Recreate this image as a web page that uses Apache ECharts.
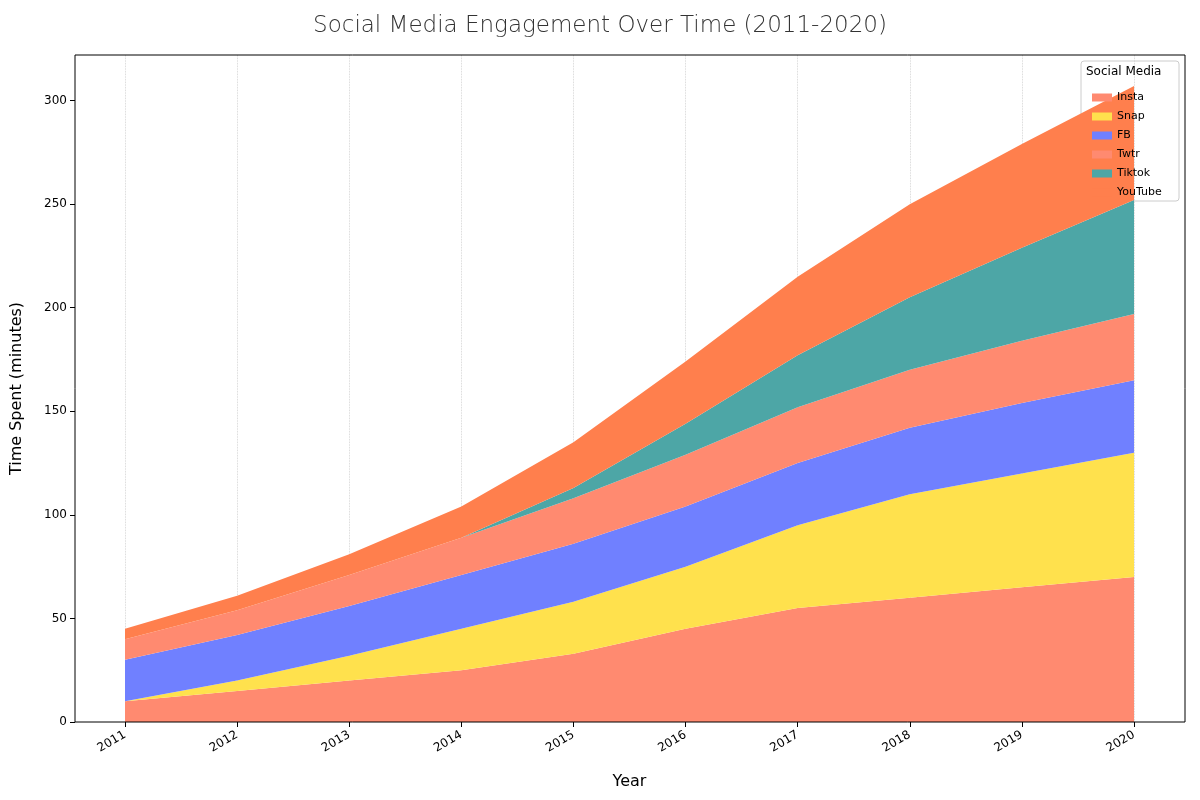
<!DOCTYPE html>
<html><head><meta charset="utf-8">
<script src="https://cdn.jsdelivr.net/npm/echarts@6/dist/echarts.min.js"></script>
<style>html,body{margin:0;padding:0;background:#fff}#c{width:1200px;height:800px}</style>
</head><body><div id="c"></div>
<script>
const years = ['2011','2012','2013','2014','2015','2016','2017','2018','2019','2020'];
const insta  = [10,15,20,25,33,45,55,60,65,70];
const snap   = [0,5,12,20,25,30,40,50,55,60];
const fb     = [20,22,24,26,28,29,30,32,34,35];
const twtr   = [10,12,15,18,22,25,27,28,30,32];
const tiktok = [0,0,0,0,5,15,25,35,45,55];
const youtube= [5,7,10,15,22,30,38,45,50,55];
const names = ['Insta','Snap','FB','Twtr','Tiktok','YouTube'];
const colors = ['#FF8A70','#FFE14D','#7080FF','#FF8A70','#4DA6A6','#FF7F4D'];
const all = [insta,snap,fb,twtr,tiktok,youtube];
const series = all.map((arr,i)=>({
  name:names[i], type:'line', stack:'t', symbol:'none', smooth:false,
  data: arr, lineStyle:{width:0}, itemStyle:{color:colors[i]},
  areaStyle:{color:colors[i],opacity:1}
}));
const chart = echarts.init(document.getElementById('c'));
chart.setOption({
  animation:false,
  title:{text:'Social Media Engagement Over Time (2011-2020)',left:'center',top:10,
    textStyle:{fontFamily:'DejaVu Sans',fontSize:23,fontWeight:'lighter',color:'#333'}},
  grid:{left:125,right:66,top:55,bottom:78},
  xAxis:{type:'category',data:years,boundaryGap:false,name:'Year',nameLocation:'middle',nameGap:52,
    nameTextStyle:{fontFamily:'DejaVu Sans',fontSize:16,color:'#000'},
    axisLine:{show:false},
    axisTick:{show:true,alignWithLabel:true,lineStyle:{color:'#000'}},
    axisLabel:{rotate:30,color:'#000',fontFamily:'DejaVu Sans',fontSize:12,margin:12},
    splitLine:{show:true,lineStyle:{color:'#ccc',type:'dotted',width:0.8}}},
  yAxis:{type:'value',min:0,max:322,interval:50,offset:50,name:'Time Spent (minutes)',nameLocation:'middle',nameGap:50,
    nameTextStyle:{fontFamily:'DejaVu Sans',fontSize:16,color:'#000'},
    axisLine:{show:false},
    axisTick:{show:true,lineStyle:{color:'#000'}},
    axisLabel:{color:'#000',fontFamily:'DejaVu Sans',fontSize:12,showMaxLabel:false},
    splitLine:{show:false}},
  legend:{orient:'vertical',left:1087,top:87,itemWidth:20,itemHeight:8,itemGap:8,
    icon:'rect',textStyle:{fontFamily:'DejaVu Sans',fontSize:11,color:'#000'},data:names},
  graphic:[
    {type:'rect',shape:{x:1081,y:61,width:98,height:140,r:3},style:{fill:'rgba(255,255,255,0.8)',stroke:'#ccc'},z:0},
    {type:'text',left:1086,top:66,style:{text:'Social Media',fontFamily:'DejaVu Sans',fontSize:12,fill:'#000'},z:10},
    {type:'rect',shape:{x:75,y:55,width:1110,height:667},style:{fill:'none',stroke:'#000',lineWidth:1},z:10}
  ],
  series
});
</script></body></html>
